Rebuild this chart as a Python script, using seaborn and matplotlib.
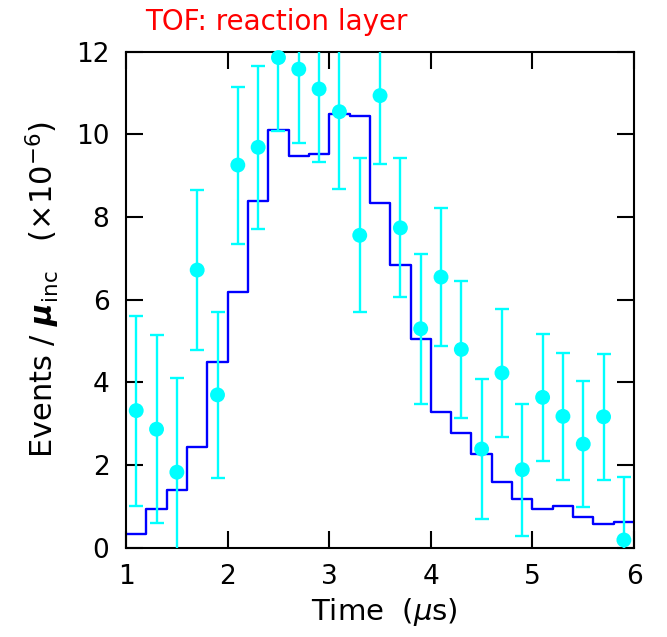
import numpy as np
import pandas as pd
import seaborn as sns
import matplotlib
matplotlib.use('Agg')
import matplotlib.pyplot as plt

# measured points (bin centres), values in 1e-6 events per incident muon
time_pts = [1.1, 1.3, 1.5, 1.7, 1.9, 2.1, 2.3, 2.5, 2.7, 2.9, 3.1, 3.3, 3.5,
            3.7, 3.9, 4.1, 4.3, 4.5, 4.7, 4.9, 5.1, 5.3, 5.5, 5.7, 5.9]
data_vals = [3.32, 2.87, 1.83, 6.72, 3.70, 9.26, 9.69, 11.86, 11.58, 11.10,
             10.55, 7.56, 10.94, 7.74, 5.30, 6.55, 4.80, 2.39, 4.23, 1.89,
             3.64, 3.18, 2.51, 3.17, 0.19]
data_errs = [2.30, 2.27, 2.27, 1.94, 2.01, 1.90, 1.97, 1.77, 1.78, 1.77,
             1.86, 1.86, 1.66, 1.68, 1.81, 1.67, 1.65, 1.70, 1.55, 1.60,
             1.53, 1.53, 1.53, 1.53, 1.52]

# simulation histogram, same binning
bin_edges = [1.0, 1.2, 1.4, 1.6, 1.8, 2.0, 2.2, 2.4, 2.6, 2.8, 3.0, 3.2, 3.4,
             3.6, 3.8, 4.0, 4.2, 4.4, 4.6, 4.8, 5.0, 5.2, 5.4, 5.6, 5.8, 6.0]
sim_vals = [0.33, 0.95, 1.41, 2.43, 4.49, 6.19, 8.40, 10.11, 9.49, 9.52,
            10.50, 10.45, 8.34, 6.85, 5.06, 3.28, 2.78, 2.26, 1.60, 1.18,
            0.95, 1.00, 0.75, 0.57, 0.63]

df = pd.DataFrame({'time': time_pts, 'events': data_vals, 'err': data_errs,
                   'sim': sim_vals})

sns.set_theme(style='ticks')
plt.rcParams['font.family'] = ['DejaVu Sans']
plt.rcParams['mathtext.fontset'] = 'dejavusans'
plt.rcParams['text.color'] = 'black'

fig = plt.figure(figsize=(6.67, 6.37), dpi=100)
ax = fig.add_axes([0.189, 0.140, 0.7616, 0.7787])

sns.histplot(data=df, x='time', weights='sim', bins=bin_edges, element='step',
             fill=False, color='#0000ff', linewidth=1.7, ax=ax)

ax.errorbar(df['time'], df['events'], yerr=df['err'], fmt='none',
            ecolor='#00ffff', elinewidth=1.7, capsize=5, capthick=1.7, zorder=3)
sns.scatterplot(data=df, x='time', y='events', color='#00ffff', s=115,
                edgecolor='none', ax=ax, zorder=4, clip_on=False)

ax.set_xlim(1, 6)
ax.set_ylim(0, 12)
ax.set_xticks([1, 2, 3, 4, 5, 6])
ax.set_yticks([0, 2, 4, 6, 8, 10, 12])
ax.tick_params(direction='in', length=12, width=1.5, top=True, right=True,
               labelsize=19, colors='black', pad=12)
for s in ax.spines.values():
    s.set_linewidth(1.5)
    s.set_color('black')
ax.set_xlabel('')
ax.set_ylabel('')

fig.text(0.577, 0.04, r'Time  ($\mu$s)', fontsize=21, ha='center', va='center')
fig.text(0.064, 0.545, r'Events / $\mathbfit{\mu}_{\rm inc}$   (×10$^{-6}$)',
         fontsize=22, rotation=90, ha='center', va='center')
fig.text(0.217, 0.965, 'TOF: reaction layer', color='red', fontsize=20,
         ha='left', va='center')

fig.savefig('out.png', dpi=100, facecolor='white')
